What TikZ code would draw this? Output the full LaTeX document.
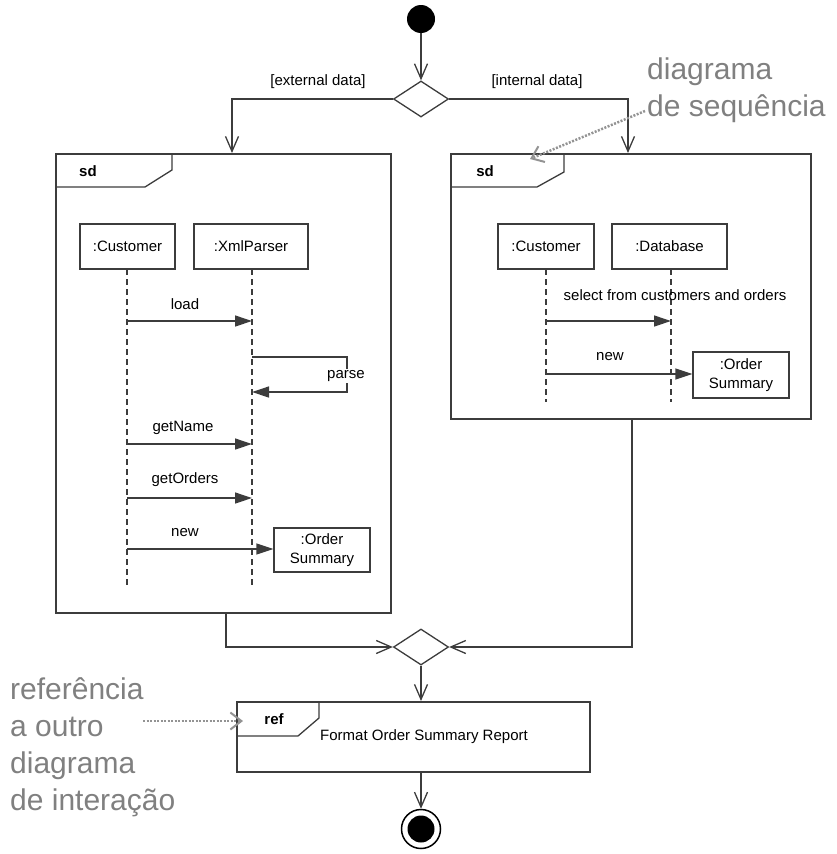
\documentclass[tikz,border=0pt]{standalone}
\usepackage{fontspec}
\setmainfont{Liberation Sans}
\usetikzlibrary{arrows.meta,shapes.geometric,calc}
\definecolor{annot}{RGB}{128,128,128}
\definecolor{ln}{RGB}{60,60,60}
\begin{document}
\begin{tikzpicture}[x=1pt,y=-1pt,
  every node/.style={font=\fontsize{15}{19}\selectfont, text=black},
  box/.style={draw=ln, line width=1.3pt, minimum height=45pt, inner sep=0pt, align=center},
  frm/.style={draw=ln, line width=1.5pt, anchor=north west, inner sep=0pt},
  tab/.style={draw=ln, line width=1.3pt},
  flow/.style={draw=ln, line width=1.3pt, -{Straight Barb[length=15pt,width=13pt]}},
  msg/.style={draw=ln, line width=1.3pt, -{Triangle[length=17pt,width=11pt]}},
  life/.style={draw=ln, line width=1.3pt, dash pattern=on 6pt off 4pt},
  decision/.style={diamond, draw=ln, line width=1.3pt, minimum width=55pt, minimum height=36pt, inner sep=0pt},
  lbl/.style={inner sep=1pt},
  note/.style={font=\fontsize{30}{37}\selectfont, text=annot, align=left, inner sep=0pt},
  notearrow/.style={draw=annot!85, line width=2.5pt, dash pattern=on 2pt off 1.5pt, -{Straight Barb[length=11pt,width=17pt,line width=2pt]}},
]
\useasboundingbox (0,0) rectangle (837,854);

% ---- activity nodes
\node[circle, fill=black, minimum size=28pt, inner sep=0pt] (start) at (421,19) {};
\node[decision] (dec) at (421,99) {};
\node[decision] (merge) at (421,647) {};
\node[circle, draw=black, line width=1.5pt, minimum size=39pt, inner sep=0pt] (final) at (421,829) {};
\node[circle, fill=black, minimum size=27pt, inner sep=0pt] (finalin) at (final) {};

\node[lbl] (gext) at (318,82) {[external data]};
\node[lbl] (gint) at (537,82) {[internal data]};

% ---- frames
\node[frm, minimum width=335pt, minimum height=459pt] (f1) at (55,153) {};
\node[frm, minimum width=360pt, minimum height=265pt] (f2) at (450,153) {};
\node[frm, minimum width=353pt, minimum height=70pt] (ref) at (236,701) {};

\draw[tab] (172,153) -- (172,170) -- (145,187) -- (55,187);
\draw[tab] (564,153) -- (564,172) -- (537,187) -- (450,187);
\draw[tab] (319,701) -- (319,718) -- (298,736) -- (236,736);
\node[font=\bfseries\fontsize{15}{19}\selectfont] (sd1) at (88,171) {sd};
\node[font=\bfseries\fontsize{15}{19}\selectfont] (sd2) at (485,171) {sd};
\node[font=\bfseries\fontsize{15}{19}\selectfont] (reft) at (274,719) {ref};
\node (reftext) at (424,737) {Format Order Summary Report};

% ---- left sequence diagram
\node[box, minimum width=95pt] (c1) at (127.5,246.5) {:Customer};
\node[box, minimum width=114pt] (x1) at (251,246.5) {:XmlParser};
\node[box, minimum width=96pt, minimum height=44pt] (os1) at (322,550) {:Order\\Summary};
\coordinate (c1end) at (127,588);
\coordinate (x1end) at (252,588);
\draw[life] (127,269) -- (c1end);
\draw[life] (252,269) -- (x1end);

\coordinate (m1a) at (127,321); \coordinate (m1b) at (252,321);
\draw[msg] (m1a) -- (m1b);
\node[lbl] (lload) at (185,304) {load};

\coordinate (pa) at (252,357); \coordinate (pb) at (347,357);
\coordinate (pc) at (347,392); \coordinate (pd) at (252,392);
\draw[msg] (pa) -- (pb) -- (pc) -- (pd);
\node[lbl, fill=white] (lparse) at (346,376) {parse};

\coordinate (m2a) at (127,444); \coordinate (m2b) at (252,444);
\draw[msg] (m2a) -- (m2b);
\node[lbl] (lgetname) at (183,428) {getName};

\coordinate (m3a) at (127,498); \coordinate (m3b) at (252,498);
\draw[msg] (m3a) -- (m3b);
\node[lbl] (lgetorders) at (185,480) {getOrders};

\coordinate (m4a) at (127,549);
\draw[msg] (m4a) -- (m4a -| os1.west);
\node[lbl] (lnew1) at (185,533) {new};

% ---- right sequence diagram
\node[box, minimum width=96pt] (c2) at (546,246.5) {:Customer};
\node[box, minimum width=115pt] (db) at (669.5,246.5) {:Database};
\node[box, minimum width=96pt, minimum height=46pt] (os2) at (741,375) {:Order\\Summary};
\coordinate (c2end) at (546,402);
\coordinate (dbend) at (671,402);
\draw[life] (546,269) -- (c2end);
\draw[life] (671,269) -- (dbend);

\coordinate (m5a) at (546,321); \coordinate (m5b) at (671,321);
\draw[msg] (m5a) -- (m5b);
\node[lbl] (lselect) at (675,295) {select from customers and orders};

\coordinate (m6a) at (546,374);
\draw[msg] (m6a) -- (m6a -| os2.west);
\node[lbl] (lnew2) at (610,357) {new};

% ---- activity flows
\coordinate (f1in) at (232,153);
\coordinate (f2in) at (628,153);
\coordinate (f1out) at (226,612);
\coordinate (f2out) at (632,418);
\draw[flow] (start) -- (dec.north);
\draw[flow] (dec.west) -| (f1in);
\draw[flow] (dec.east) -| (f2in);
\draw[flow] (f1out) |- (merge.west);
\draw[flow] (f2out) |- (merge.east);
\draw[flow] (merge.south) -- (merge.south |- ref.north);
\draw[flow] (final |- ref.south) -- (final.north);

% ---- annotations
\node[note, anchor=north west] (n1) at (647,58) {diagrama\\de sequência};
\node[note, anchor=north west] (n2) at (10,677) {referência\\a outro\\diagrama\\de interação};
\coordinate (n1tip) at (530,159);
\coordinate (n2tip) at (243,721);
\draw[notearrow] (645,111) -- (n1tip);
\draw[notearrow] (143,721) -- (n2tip);
\end{tikzpicture}
\end{document}
